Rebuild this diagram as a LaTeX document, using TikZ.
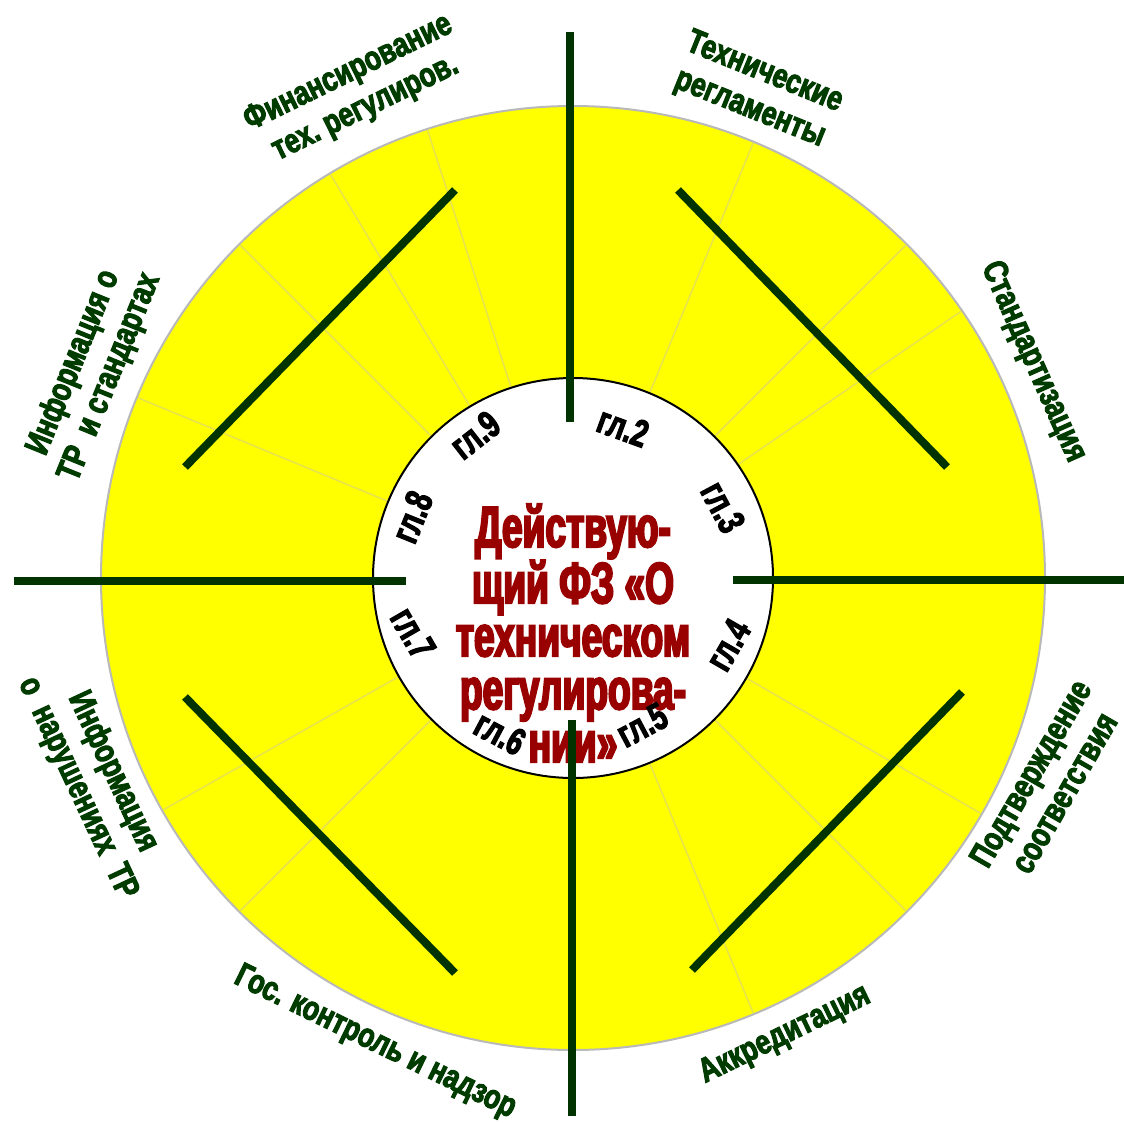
\documentclass[tikz,border=0pt]{standalone}
\usepackage{fontspec}
\newfontfamily\outf{Liberation Sans}[FakeStretch=0.78,FakeBold=3]
\newfontfamily\chapf{Liberation Sans}[FakeStretch=0.72,FakeBold=3]
\newfontfamily\ctrf{Liberation Sans}[FakeStretch=0.64,FakeBold=3.5]
\definecolor{dkgreen}{RGB}{0,51,0}
\definecolor{lblgreen}{RGB}{0,60,0}
\definecolor{dkred}{RGB}{153,0,0}
\definecolor{ringyellow}{RGB}{255,255,0}
\definecolor{faintline}{RGB}{230,226,80}
\begin{document}
\begin{tikzpicture}[x=1pt,y=-1pt,
  darkline/.style={draw=dkgreen, line width=8pt},
  faint/.style={draw=faintline, line width=1.5pt},
  outlabel/.style={text=lblgreen, font=\outf\bfseries\fontsize{34}{39}\selectfont, align=center, inner sep=0pt},
  chap/.style={text=black, font=\chapf\bfseries\fontsize{38}{40}\selectfont, inner sep=0pt},
  ctr/.style={text=dkred, font=\ctrf\bfseries\fontsize{58}{53}\selectfont, align=center, inner sep=0pt}]
\useasboundingbox (0,0) rectangle (1124,1124);
\fill[white] (0,0) rectangle (1124,1124);
\coordinate (c) at (573,578);
% outer ring
\fill[ringyellow, draw=gray!55, line width=2pt] (c) circle[radius=472pt];
% faint radial lines
\foreach \a in {34.5,45,67.5,108,121,135,157.5,209.5,225,292.5,315,330}
  \draw[faint] ([shift={(c)}]\a:200pt) -- ([shift={(c)}]\a:471pt);
% inner circle
\draw[fill=white, draw=black, line width=2pt] (c) circle[radius=200pt];
% center text
\node[ctr] (title) at (573,633) {Действую-\\щий ФЗ «О\\техническом\\регулирова-\\нии»};
% chapter labels
\node[chap, rotate=-20] (g2) at (623,427) {гл.2};
\node[chap, rotate=-62] (g3) at (723,507) {гл.3};
\node[chap, rotate=60] (g4) at (728,645) {гл.4};
\node[chap, rotate=28] (g5) at (642,725) {гл.5};
\node[chap, rotate=-28] (g6) at (500,733) {гл.6};
\node[chap, rotate=-60] (g7) at (413,633) {гл.7};
\node[chap, rotate=68] (g8) at (412,517) {гл.8};
\node[chap, rotate=38] (g9) at (475,435) {гл.9};
% dark lines
\coordinate (t1) at (570,32);   \coordinate (t2) at (570,422);
\coordinate (b1) at (572,720);  \coordinate (b2) at (572,1116);
\coordinate (l1) at (14,581);   \coordinate (l2) at (406,581);
\coordinate (r1) at (733,580);  \coordinate (r2) at (1124,580);
\coordinate (d1a) at (455,190); \coordinate (d1b) at (185,467);
\coordinate (d2a) at (678,190); \coordinate (d2b) at (947,467);
\coordinate (d3a) at (185,697); \coordinate (d3b) at (455,973);
\coordinate (d4a) at (962,692); \coordinate (d4b) at (692,970);
\draw[darkline] (t1) -- (t2);
\draw[darkline] (b1) -- (b2);
\draw[darkline] (l1) -- (l2);
\draw[darkline] (r1) -- (r2);
\draw[darkline] (d1a) -- (d1b);
\draw[darkline] (d2a) -- (d2b);
\draw[darkline] (d3a) -- (d3b);
\draw[darkline] (d4a) -- (d4b);
% outer labels
\node[outlabel, rotate=26] (fin) at (357,91) {Финансирование\\тех.\ регулиров.};
\node[outlabel, rotate=-22] (tr) at (757,91) {Технические\\регламенты};
\node[outlabel, rotate=-66] (std) at (1033,362) {Стандартизация};
\node[outlabel, rotate=68] (info1) at (92,370) {Информация о\\ТР\ \ и стандартах};
\node[outlabel, rotate=-65] (info2) at (95,780) {Информация\\о\ \ нарушениях\ \ ТР};
\node[outlabel, rotate=60] (podt) at (1047,783) {Подтверждение\\соответствия};
\node[outlabel, rotate=-26] (gos) at (375,1043) {Гос. контроль и надзор};
\node[outlabel, rotate=26] (akk) at (785,1035) {Аккредитация};
\end{tikzpicture}
\end{document}
